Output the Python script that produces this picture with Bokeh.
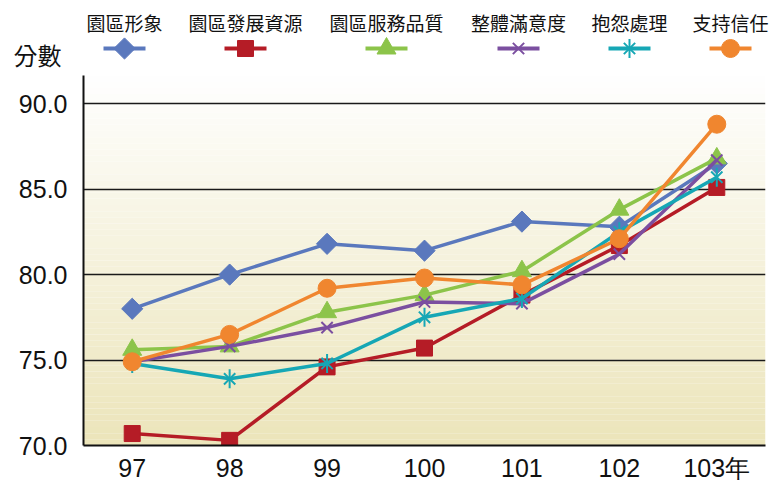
import numpy as np
from bokeh.plotting import figure
from bokeh.layouts import column
from bokeh.models import FactorRange, Range1d, FixedTicker, PrintfTickFormatter, BoxAnnotation
from bokeh.core.properties import value
from bokeh.embed import file_html
from bokeh.resources import INLINE

# ---------------- data ----------------
years = ["97", "98", "99", "100", "101", "102", "103年"]
series_names = ["園區形象", "園區發展資源", "園區服務品質", "整體滿意度", "抱怨處理", "支持信任"]
image_vals = [78.0, 80.0, 81.8, 81.4, 83.1, 82.8, 86.5]
resource_vals = [70.7, 70.3, 74.6, 75.7, 78.8, 81.7, 85.1]
service_vals = [75.6, 75.8, 77.8, 78.8, 80.2, 83.8, 86.8]
overall_vals = [74.9, 75.8, 76.9, 78.4, 78.3, 81.2, 86.7]
complaint_vals = [74.8, 73.9, 74.8, 77.5, 78.6, 82.5, 85.7]
trust_vals = [74.9, 76.5, 79.2, 79.8, 79.4, 82.1, 88.8]
y_ticks = [70, 75, 80, 85, 90]
y_title = "分數"

all_vals = [image_vals, resource_vals, service_vals, overall_vals, complaint_vals, trust_vals]
colors = ["#5A78BD", "#B51C26", "#8CC44A", "#7B4FA0", "#16A7B5", "#F0862F"]
markers = ["diamond", "square", "triangle", "x", "star", "circle"]

CJK = "Noto Sans CJK TC"
LAT = "Liberation Sans"

W = 778
LEFT, RIGHT = 83, 13
LEG_H = 75

# ---------------- main chart ----------------
p = figure(x_range=FactorRange(factors=years), y_range=Range1d(70, 91.65),
           frame_width=W - LEFT - RIGHT, frame_height=370,
           output_backend="svg", toolbar_location=None,
           min_border_left=LEFT, min_border_right=RIGHT, min_border_top=0, min_border_bottom=0)
p.frame_align = False
p.outline_line_color = None
p.background_fill_color = "white"
p.border_fill_color = "white"

# vertical gradient background
n_bands = 60
y0, y1 = p.y_range.start, p.y_range.end
top_rgb = np.array([255, 255, 255])
bot_rgb = np.array([236, 229, 186])
edges = np.linspace(y0, y1, n_bands + 1)
for i in range(n_bands):
    t = (edges[i] + edges[i + 1]) / 2
    f = (t - y0) / (y1 - y0)
    rgb = (bot_rgb + (top_rgb - bot_rgb) * f).astype(int)
    col = "#%02x%02x%02x" % tuple(rgb)
    p.add_layout(BoxAnnotation(bottom=edges[i], top=edges[i + 1], fill_color=col,
                               fill_alpha=1.0, line_color=None, level="image"))

p.xgrid.visible = False
p.ygrid.ticker = FixedTicker(ticks=y_ticks)
p.ygrid.grid_line_color = "#1a1a1a"
p.ygrid.grid_line_width = 1.6

p.yaxis.ticker = FixedTicker(ticks=y_ticks)
p.yaxis.formatter = PrintfTickFormatter(format="%.1f")
for ax in (p.xaxis, p.yaxis):
    ax.major_tick_out = 0
    ax.major_tick_in = 0
    ax.minor_tick_out = 0
    ax.minor_tick_in = 0
    ax.axis_line_color = "#111111"
    ax.axis_line_width = 2
    ax.major_label_text_font = LAT
    ax.major_label_text_font_size = "25px"
    ax.major_label_text_color = "#111111"
p.yaxis.major_label_standoff = 16
p.xaxis.major_label_standoff = 8


def draw_marker(fig, x, y, kind, color):
    if kind == "diamond":
        fig.scatter(x, y, marker="square", angle=np.pi / 4, size=15,
                    fill_color=color, line_color=color)
    elif kind == "square":
        fig.scatter(x, y, marker="square", size=16, fill_color=color, line_color=color)
    elif kind == "triangle":
        fig.scatter(x, y, marker="triangle", size=19, fill_color=color, line_color=color)
    elif kind == "x":
        fig.scatter(x, y, marker="x", size=16, line_color=color, line_width=2)
    elif kind == "star":
        fig.scatter(x, y, marker="x", size=16, line_color=color, line_width=2)
        fig.scatter(x, y, marker="dash", angle=np.pi / 2, size=19, line_color=color, line_width=2)
    elif kind == "circle":
        fig.scatter(x, y, marker="circle", size=18, fill_color=color, line_color=color)


for vals, c, m in zip(all_vals, colors, markers):
    p.line(years, vals, line_color=c, line_width=3.5)
    draw_marker(p, years, vals, m, c)

# ---------------- legend strip (coordinates = page pixels) ----------------
lg = figure(x_range=Range1d(0, W), y_range=Range1d(LEG_H, 0), width=W, height=LEG_H,
            output_backend="svg", toolbar_location=None,
            x_axis_location=None, y_axis_location=None, min_border=0)
lg.frame_align = False
lg.outline_line_color = None
lg.grid.visible = False
lg.background_fill_color = "white"
lg.border_fill_color = "white"

legend_x = [124, 245, 386, 518, 629, 730]
label_y = 22
glyph_y = 48
half = 21
for name, lx, c, m in zip(series_names, legend_x, colors, markers):
    lg.segment(x0=[lx - half], y0=[glyph_y], x1=[lx + half], y1=[glyph_y], line_color=c, line_width=4)
    draw_marker(lg, [lx], [glyph_y], m, c)
lg.text(x=legend_x, y=[label_y] * len(legend_x), text=series_names, text_align="center",
        text_baseline="middle", text_font=value(CJK), text_font_size="19px", text_color="#111111")
lg.text(x=[37], y=[54], text=[y_title], text_align="center", text_baseline="middle",
        text_font=value(CJK), text_font_size="24px", text_color="#111111")

layout = column(lg, p, spacing=0)
html = file_html(layout, INLINE).replace("</head>", "<style>html, body { overflow: hidden; }</style></head>", 1)
open("out.html", "w").write(html)
